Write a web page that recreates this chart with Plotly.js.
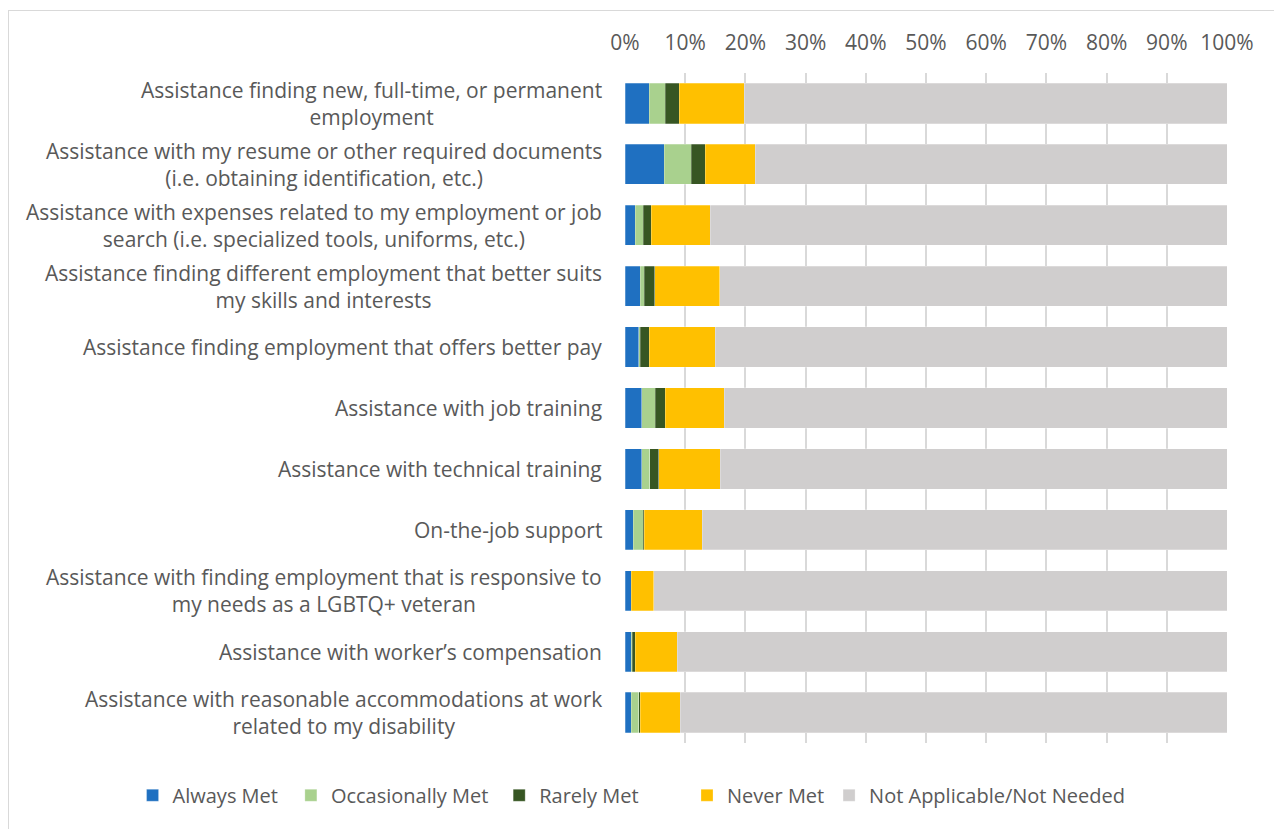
<!DOCTYPE html>
<html>
<head>
<meta charset="utf-8">
<script src="https://cdn.plot.ly/plotly-3.0.1.min.js"></script>
<style>
  html, body { margin: 0; padding: 0; background: #fff; }
  #chart { width: 1274px; height: 829px; }
  #frame { position: absolute; left: 8px; top: 10px; width: 1300px; height: 900px; border: 1px solid #d9d9d9; box-sizing: border-box; pointer-events: none; }
</style>
</head>
<body>
<div id="chart"></div>
<div id="frame"></div>
<script>
const categories = [
  "Assistance finding new, full-time, or permanent<br>employment",
  "Assistance with my resume or other required documents<br>(i.e. obtaining identification, etc.)",
  "Assistance with expenses related to my employment or job<br>search (i.e. specialized tools, uniforms, etc.)",
  "Assistance finding different employment that better suits<br>my skills and interests",
  "Assistance finding employment that offers better pay",
  "Assistance with job training",
  "Assistance with technical training",
  "On-the-job support",
  "Assistance with finding employment that is responsive to<br>my needs as a LGBTQ+ veteran",
  "Assistance with worker\u2019s compensation",
  "Assistance with reasonable accommodations at work<br>related to my disability"
];
const seriesNames = ["Always Met", "Occasionally Met", "Rarely Met", "Never Met", "Not Applicable/Not Needed"];
const alwaysMet       = [4.0, 6.5, 1.7, 2.5, 2.3, 2.8, 2.8, 1.4, 1.0, 1.0, 1.0];
const occasionallyMet = [2.7, 4.5, 1.3, 0.7, 0.2, 2.2, 1.3, 1.6, 0.0, 0.2, 1.3];
const rarelyMet       = [2.3, 2.3, 1.4, 1.7, 1.5, 1.7, 1.5, 0.2, 0.0, 0.5, 0.2];
const neverMet        = [10.8, 8.3, 9.8, 10.8, 11.0, 9.8, 10.2, 9.6, 3.8, 7.0, 6.7];
const notApplicable   = [80.2, 78.4, 85.8, 84.3, 85.0, 83.5, 84.2, 87.2, 95.2, 91.3, 90.8];
const tickValues = [0, 10, 20, 30, 40, 50, 60, 70, 80, 90, 100];
const tickLabels = ["0%", "10%", "20%", "30%", "40%", "50%", "60%", "70%", "80%", "90%", "100%"];

const colors = ["#1f70c1", "#a9d18e", "#375623", "#ffc000", "#d0cece"];
const allSeries = [alwaysMet, occasionallyMet, rarelyMet, neverMet, notApplicable];
const legendIds = ["legend", "legend2", "legend3", "legend4", "legend5"];
const legendX = [-0.818, -0.555, -0.209, 0.103, 0.339];

const traces = allSeries.map((vals, i) => ({
  type: "bar",
  orientation: "h",
  name: seriesNames[i],
  x: vals,
  y: categories,
  legend: legendIds[i],
  marker: { color: colors[i], line: { color: "rgba(255,255,255,0.5)", width: 0.5 } },
  hoverinfo: "x+name"
}));

const font = "'Open Sans', 'Noto Sans', sans-serif";
const textColor = "#595959";

const labelAnnotations = categories.map(c => ({
  xref: "paper",
  yref: "y",
  x: 0,
  y: c,
  xanchor: "right",
  yanchor: "middle",
  xshift: -21,
  align: "center",
  showarrow: false,
  text: c,
  font: { family: font, size: 21, color: textColor }
}));

const legendBase = {
  orientation: "h",
  xanchor: "left",
  y: -0.078,
  yanchor: "middle",
  itemwidth: 30,
  font: { family: font, size: 20, color: textColor },
  traceorder: "normal",
  bgcolor: "rgba(0,0,0,0)"
};

const layout = {
  width: 1274,
  height: 829,
  margin: { l: 625, r: 47, t: 73, b: 86 },
  barmode: "stack",
  bargap: 0.34,
  paper_bgcolor: "#ffffff",
  plot_bgcolor: "#ffffff",
  font: { family: font, size: 21, color: textColor },
  showlegend: true,
  xaxis: {
    side: "top",
    range: [0, 100],
    tickvals: tickValues,
    ticktext: tickLabels,
    showgrid: true,
    gridcolor: "#d9d9d9",
    gridwidth: 2,
    zeroline: false,
    showline: false,
    ticks: "",
    ticklabelstandoff: 18,
    tickfont: { family: font, size: 21, color: textColor },
    fixedrange: true
  },
  yaxis: {
    autorange: "reversed",
    showgrid: false,
    zeroline: false,
    showline: false,
    ticks: "",
    showticklabels: false,
    fixedrange: true
  },
  annotations: labelAnnotations
};
legendIds.forEach((id, i) => {
  layout[id] = Object.assign({}, legendBase, { x: legendX[i] });
});

Plotly.newPlot("chart", traces, layout, { displayModeBar: false });
</script>
</body>
</html>
